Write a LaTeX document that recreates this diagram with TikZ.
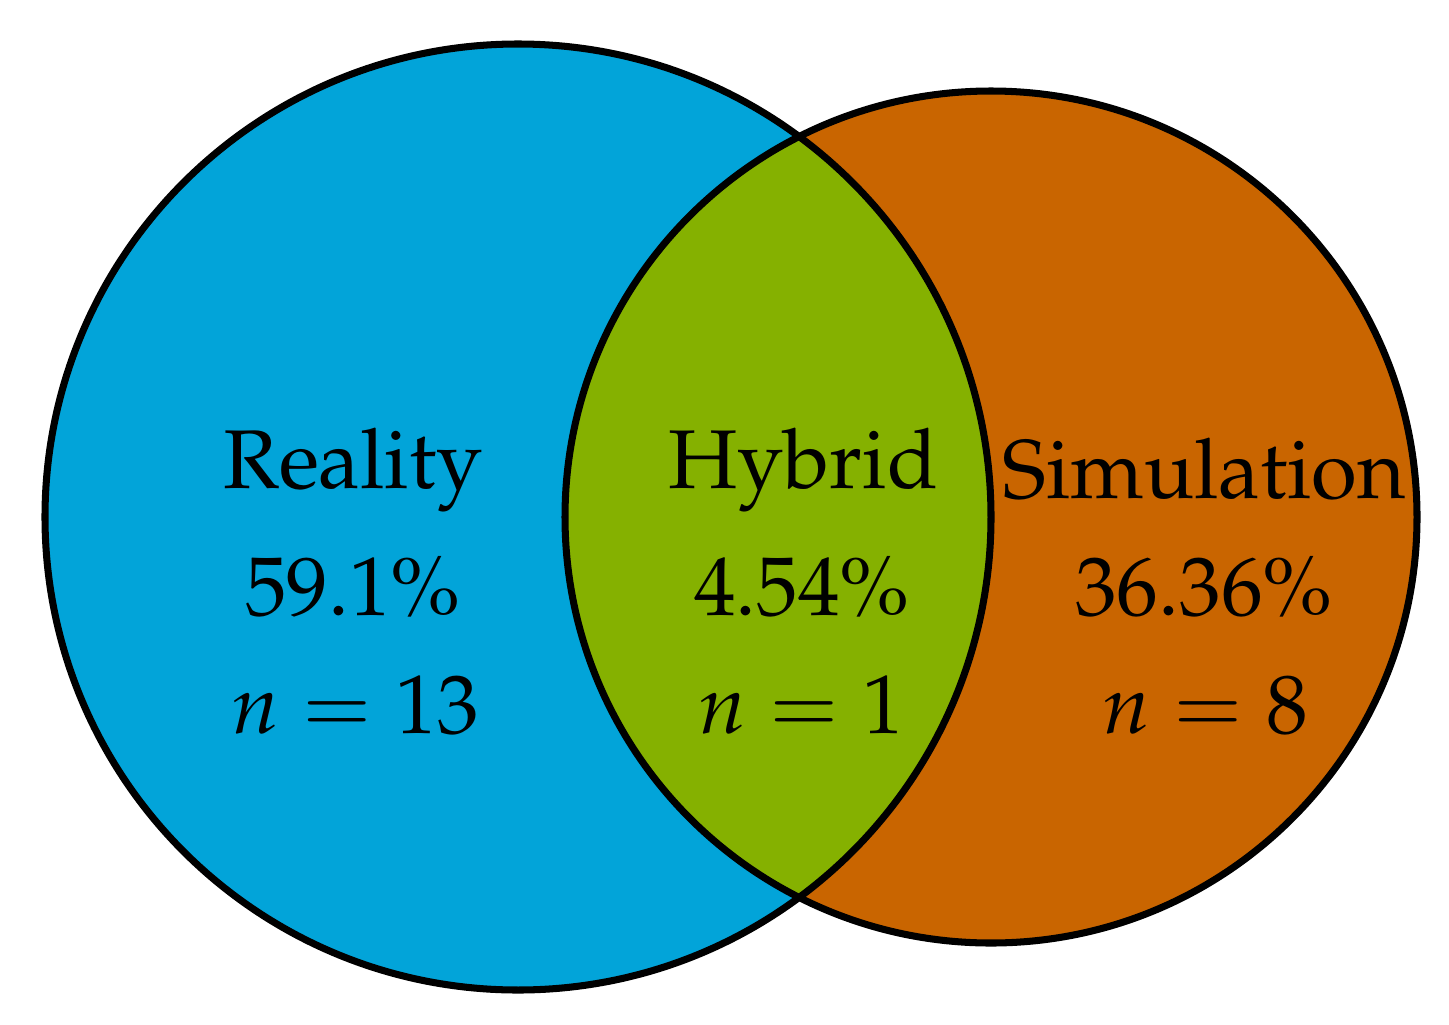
\documentclass[tikz,border=0pt]{standalone}
\usepackage[T1]{fontenc}
\usepackage{mathpazo}
\definecolor{realblue}{RGB}{2,164,217}
\definecolor{simorange}{RGB}{201,101,0}
\definecolor{hybgreen}{RGB}{133,177,0}
\begin{document}
\begin{tikzpicture}[x=0.01cm,y=-0.01cm,
  lbl/.style={anchor=base,inner sep=0pt,font=\fontsize{23.7}{28}\selectfont},
  outline/.style={draw=black,line width=2pt}]
\useasboundingbox (0,0) rectangle (1449,1024);
\coordinate (cl) at (518,517);
\coordinate (cr) at (991,517);
\fill[realblue] (cl) circle[radius=473];
\fill[simorange] (cr) circle[radius=426];
\begin{scope}
  \clip (cl) circle[radius=473];
  \fill[hybgreen] (cr) circle[radius=426];
\end{scope}
\draw[outline] (cl) circle[radius=473];
\draw[outline] (cr) circle[radius=426];
\node[lbl] (r1) at (353,488) {Reality};
\node[lbl] (r2) at (353,615) {59.1\%};
\node[lbl] (r3) at (355,733) {$n=13$};
\node[lbl] (h1) at (803,488) {Hybrid};
\node[lbl] (h2) at (802,615) {4.54\%};
\node[lbl] (h3) at (801,733) {$n=1$};
\node[lbl] (s1) at (1204,498) {Simulation};
\node[lbl] (s2) at (1204,615) {36.36\%};
\node[lbl] (s3) at (1205,733) {$n=8$};
\end{tikzpicture}
\end{document}
